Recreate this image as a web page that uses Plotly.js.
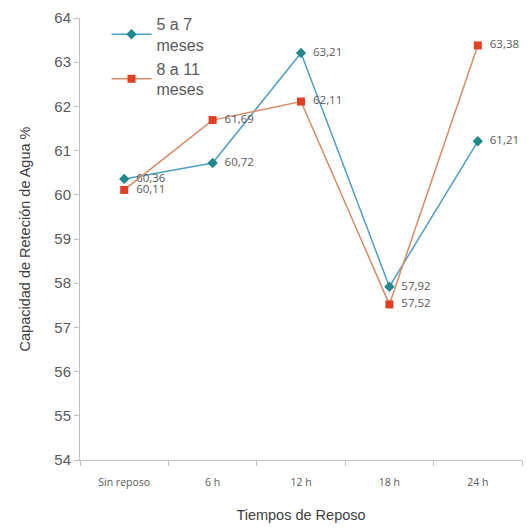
<!DOCTYPE html>
<html><head><meta charset="utf-8">
<script src="https://cdn.plot.ly/plotly-3.0.1.min.js"></script>
<style>html,body{margin:0;padding:0;background:#fff}#chart{width:527px;height:528px}</style>
</head><body><div id="chart"></div>
<script>
const categories = ["Sin reposo", "6 h", "12 h", "18 h", "24 h"];
const serieA = [60.36, 60.72, 63.21, 57.92, 61.21];
const serieB = [60.11, 61.69, 62.11, 57.52, 63.38];
const nameA = "5 a 7<br>meses";
const nameB = "8 a 11<br>meses";
const fmt = v => "  " + v.toFixed(2).replace(".", ",");

const lblFont = {family: "Open Sans, DejaVu Sans, sans-serif", size: 11.5, color: "#595959"};
const traces = [
  {x: categories, y: serieA, name: nameA, type: "scatter", mode: "lines+markers+text",
   line: {color: "#4f9fc4", width: 1.5},
   marker: {symbol: "diamond", size: 8, color: "#22888f"},
   text: serieA.map(fmt), textposition: "middle right",
   textfont: lblFont, cliponaxis: false},
  {x: categories, y: serieB, name: nameB, type: "scatter", mode: "lines+markers+text",
   line: {color: "#d98a66", width: 1.5},
   marker: {symbol: "square", size: 8, color: "#e23e22"},
   text: serieB.map(fmt), textposition: "middle right",
   textfont: lblFont, cliponaxis: false}
];

const layout = {
  width: 527, height: 528,
  margin: {l: 80, r: 5, t: 18, b: 68},
  paper_bgcolor: "#fff", plot_bgcolor: "#fff",
  font: {family: "Liberation Sans, Arial, sans-serif", color: "#595959"},
  showlegend: true,
  legend: {x: 0.06, y: 1.025, xanchor: "left", yanchor: "top", bgcolor: "rgba(0,0,0,0)",
           font: {size: 16, color: "#595959"}, tracegroupgap: 0, itemwidth: 40},
  xaxis: {type: "category", range: [-0.5, 4.5], tickson: "boundaries", ticks: "outside", ticklen: 5, tickcolor: "#bfbfbf",
          showline: true, linecolor: "#bfbfbf", linewidth: 1, showgrid: false, zeroline: false,
          ticklabelstandoff: 12,
          tickfont: {family: "Open Sans, DejaVu Sans, sans-serif", size: 10.5, color: "#595959"},
          title: {text: "Tiempos de Reposo", font: {size: 14.5, color: "#404040"}, standoff: 22}},
  yaxis: {range: [54, 64], dtick: 1, ticks: "outside", ticklen: 5, tickcolor: "#bfbfbf",
          showline: true, linecolor: "#bfbfbf", linewidth: 1, showgrid: false, zeroline: false,
          tickfont: {size: 15, color: "#595959"},
          title: {text: "Capacidad de Reteción de Agua %", font: {size: 14.5, color: "#404040"}, standoff: 20}}
};
Plotly.newPlot("chart", traces, layout, {displayModeBar: false, staticPlot: true});
</script>
</body></html>
